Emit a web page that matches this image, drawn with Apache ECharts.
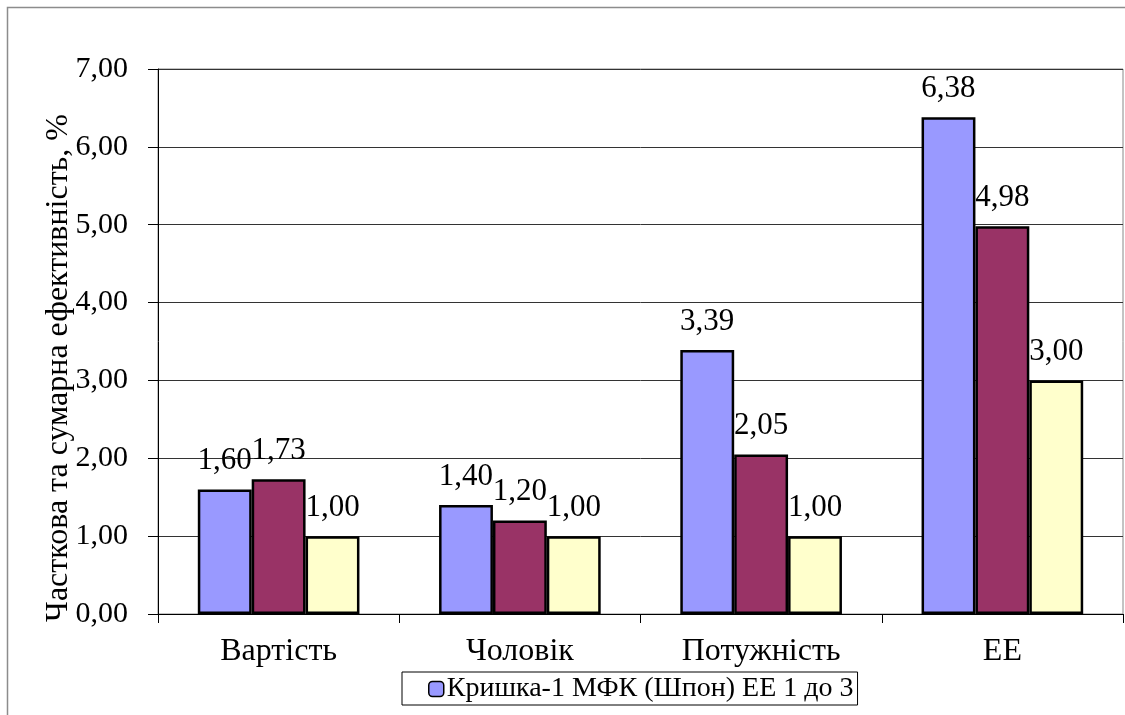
<!DOCTYPE html>
<html>
<head>
<meta charset="utf-8">
<script src="https://cdn.jsdelivr.net/npm/echarts@6/dist/echarts.min.js"></script>
<style>
  html, body { margin: 0; padding: 0; background: #fff; }
  #chart { width: 1125px; height: 715px; }
</style>
</head>
<body>
<div id="chart"></div>
<script>
// Categories and values for the three bar series
const categories = ['Вартість', 'Чоловік', 'Потужність', 'ЕЕ'];
const seriesNames = ['Кришка-1 МФК (Шпон) ЕЕ 1 до 3', 'Серія 2', 'Серія 3'];
const valuesA = [1.60, 1.40, 3.39, 6.38];
const valuesB = [1.73, 1.20, 2.05, 4.98];
const valuesC = [1.00, 1.00, 1.00, 3.00];
const yTicks = { min: 0, max: 7, interval: 1 };
const yAxisTitle = 'Часткова та сумарна ефективність, %';

const FONT = 'Liberation Serif';
const fmt = v => Number(v).toFixed(2).replace('.', ',');
const colors = ['#9999FF', '#993366', '#FFFFCC'];

function barSeries(name, data, color) {
  return {
    name: name,
    type: 'bar',
    data: data,
    barGap: '0%',
    barCategoryGap: '33%',
    itemStyle: { color: color, borderColor: '#000', borderWidth: 2.5 },
    label: {
      show: true,
      position: 'top',
      distance: 13,
      color: '#000',
      fontFamily: FONT,
      fontSize: 31,
      formatter: p => fmt(p.value)
    }
  };
}

const chart = echarts.init(document.getElementById('chart'));
chart.setOption({
  backgroundColor: '#fff',
  animation: false,
  grid: {
    left: 158, right: 2, top: 69, bottom: 101,
    show: true, borderColor: '#888', borderWidth: 1, backgroundColor: 'transparent'
  },
  legend: {
    data: [seriesNames[0]],
    left: 402, top: 672,
    padding: [3, 4, 2, 26],
    itemWidth: 15, itemHeight: 15,
    itemGap: 0,
    backgroundColor: '#fff',
    borderColor: '#000', borderWidth: 1,
    itemStyle: { borderColor: '#000', borderWidth: 1.5 },
    textStyle: { fontFamily: FONT, fontSize: 28, color: '#000', padding: [0, 0, 0, -2] }
  },
  xAxis: {
    type: 'category',
    data: categories,
    axisLine: { lineStyle: { color: '#000', width: 1 } },
    axisTick: { show: true, length: 9, inside: false, lineStyle: { color: '#000' } },
    axisLabel: { color: '#000', fontFamily: FONT, fontSize: 32, margin: 22 },
    splitLine: { show: false }
  },
  yAxis: {
    type: 'value',
    min: yTicks.min, max: yTicks.max, interval: yTicks.interval,
    axisLine: { show: true, lineStyle: { color: '#000', width: 1 } },
    axisTick: { show: true, length: 10, inside: false, lineStyle: { color: '#000' } },
    axisLabel: { color: '#000', fontFamily: FONT, fontSize: 30, margin: 30, formatter: fmt },
    splitLine: { show: true, lineStyle: { color: '#333', width: 1 } }
  },
  graphic: [
    {
      type: 'rect', z: -10, silent: true,
      shape: { x: 7.5, y: 7.5, width: 1200, height: 800 },
      style: { fill: 'none', stroke: '#8c8c8c', lineWidth: 1.5 }
    },
    {
      type: 'text', silent: true,
      x: 59, y: 368, rotation: Math.PI / 2,
      style: {
        text: yAxisTitle,
        fontFamily: FONT,
        fontSize: 32,
        fill: '#000',
        align: 'center',
        verticalAlign: 'middle'
      }
    }
  ],
  series: [
    barSeries(seriesNames[0], valuesA, colors[0]),
    barSeries(seriesNames[1], valuesB, colors[1]),
    barSeries(seriesNames[2], valuesC, colors[2])
  ]
});
</script>
</body>
</html>
